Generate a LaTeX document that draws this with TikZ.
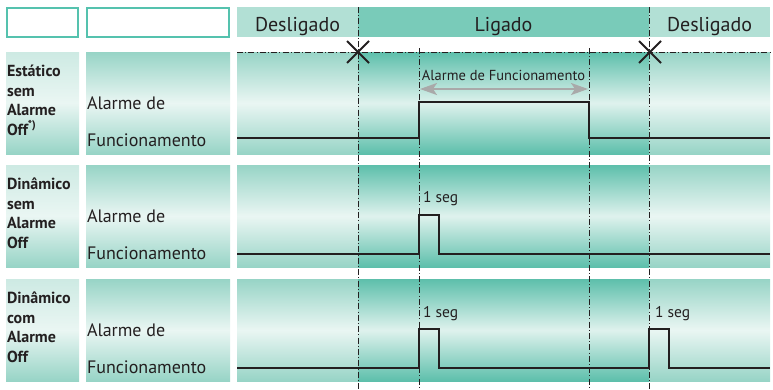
\documentclass[tikz,border=0pt]{standalone}
\usepackage{fontspec}
\setmainfont{PT Sans}
\usetikzlibrary{arrows.meta}

\definecolor{inkgray}{HTML}{231F20}
\definecolor{boxteal}{HTML}{55C2AE}
\definecolor{hdroff}{HTML}{B2E0D5}
\definecolor{hdron}{HTML}{79CBB9}
\definecolor{offdark}{HTML}{97D4C6}
\definecolor{ondark}{HTML}{5DBFAB}
\definecolor{paleteal}{HTML}{EAF6F3}
\definecolor{topteal}{HTML}{CDEAE3}
\definecolor{arrowgray}{HTML}{A9A9A9}

\begin{document}
\begin{tikzpicture}[x=1pt, y=-1pt, text=inkgray,
  every node/.style={inner sep=0pt, outer sep=0pt},
  emptybox/.style={draw=boxteal, line width=1.2pt, fill=white, anchor=north west},
  offzone/.style={top color=offdark, bottom color=offdark, middle color=paleteal},
  onzone/.style={top color=ondark, bottom color=ondark, middle color=paleteal!92!ondark},
  leftzone/.style={top color=topteal, bottom color=offdark, middle color=paleteal},
  hdrtext/.style={font=\fontsize{20}{24}\selectfont, anchor=base},
  casetext/.style={font=\fontsize{16}{19.5}\selectfont\bfseries, align=left, anchor=north west},
  sigtext/.style={font=\fontsize{18}{22}\selectfont, anchor=base west},
  marktext/.style={font=\fontsize{15.5}{18}\selectfont, anchor=base west},
  timeline/.style={draw=inkgray, line width=0.8pt, dash pattern=on 6pt off 2.2pt on 1pt off 2.2pt},
  signal/.style={draw=inkgray, line width=1.6pt, line join=miter},
  offmark/.style={draw=inkgray, line width=1.8pt}]
  \useasboundingbox (0,0) rectangle (773,389);

  % header
  \node (blankA) [emptybox, minimum width=71, minimum height=29] at (7,8) {};
  \node (blankB) [emptybox, minimum width=142, minimum height=29] at (87,8) {};
  \fill[hdroff] (237,7) rectangle (358,37);
  \fill[hdron] (358,7) rectangle (649,37);
  \fill[hdroff] (649,7) rectangle (770,37);
  \node (hdrOffA) [hdrtext] at (297.5,31) {Desligado};
  \node (hdrOn) [hdrtext] at (503.5,31) {Ligado};
  \node (hdrOffB) [hdrtext] at (709.5,31) {Desligado};

  % rows
  \foreach \rowy/\case [count=\i] in {52/{Estático\\sem\\Alarme\\Off\textsuperscript{*)}},
      165/{Dinâmico\\sem\\Alarme\\Off}, 279/{Dinâmico\\com\\Alarme\\Off}} {
    \shade[leftzone] (6,\rowy) rectangle (79,\rowy+102);
    \shade[offzone] (86,\rowy) rectangle (230,\rowy+102);
    \shade[offzone] (237,\rowy) rectangle (358,\rowy+102);
    \shade[onzone] (358,\rowy) rectangle (649,\rowy+102);
    \shade[offzone] (649,\rowy) rectangle (770,\rowy+102);
    \node (case\i) [casetext] at (7,\rowy+13) {\case};
    \node (sigA\i) [sigtext] at (87,\rowy+57) {Alarme de};
    \node (sigB\i) [sigtext] at (87,\rowy+94) {Funcionamento};
  }

  % time marks
  \coordinate (tOn) at (358,7);
  \coordinate (tUp) at (419,48);
  \coordinate (tDown) at (589,48);
  \coordinate (tOff) at (649,7);
  \draw[timeline] (237,52) -- (770,52);
  \foreach \t in {tOn, tUp, tDown, tOff}
    \draw[timeline] (\t) -- (\t |- 0,389);

  % signals
  \draw[signal] (237,138) -- (419,138) -- (419,102) -- (589,102) -- (589,138) -- (770,138);
  \draw[signal] (237,254) -- (419,254) -- (419,215) -- (439,215) -- (439,254) -- (770,254);
  \draw[signal] (237,368) -- (419,368) -- (419,329) -- (439,329) -- (439,368)
    -- (649,368) -- (649,329) -- (669,329) -- (669,368) -- (770,368);

  \coordinate (almA) at (420,89);
  \coordinate (almB) at (588,89);
  \draw[arrowgray, line width=2pt, {Stealth[length=17pt, width=12pt, inset=4pt]}-{Stealth[length=17pt, width=12pt, inset=4pt]}] (almA) -- (almB);
  \node (almText) [font=\fontsize{14.5}{17}\selectfont, anchor=base] at (503.5,80) {Alarme de Funcionamento};

  \node (secA) [marktext] at (423,202) {1 seg};
  \node (secB) [marktext] at (423,317) {1 seg};
  \node (secC) [marktext] at (655,317) {1 seg};

  \draw[offmark] (347,41) -- (369,63) (347,63) -- (369,41);
  \draw[offmark] (639,41) -- (661,63) (639,63) -- (661,41);
\end{tikzpicture}
\end{document}
